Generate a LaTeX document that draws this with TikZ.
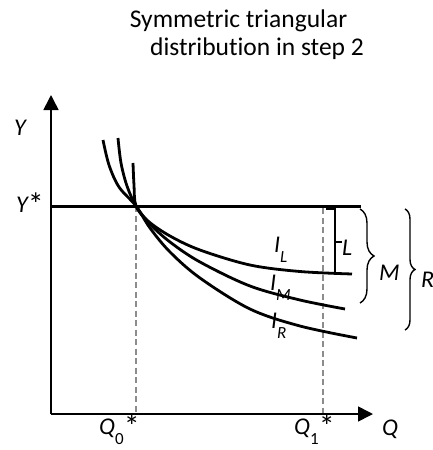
\documentclass[tikz,border=0pt]{standalone}
\usepackage{fontspec}
\setmainfont{Carlito}[Ligatures={NoCommon}]
\usetikzlibrary{arrows.meta,decorations.pathreplacing}
\newcommand{\mysub}[1]{\raisebox{-10pt}{\fontsize{17}{17}\selectfont #1}}
\newcommand{\myast}{\raisebox{-3pt}{\fontsize{32}{32}\selectfont\upshape *}}
\tikzset{
  axis/.style={line width=1.6pt,-{Triangle[length=15pt,width=15pt]}},
  curve/.style={line width=2.8pt},
  guide/.style={line width=1.3pt,draw=black!45,dash pattern=on 6pt off 3.5pt},
  lbl/.style={font=\fontsize{24}{24}\selectfont\itshape,inner sep=0pt,anchor=base west},
  ttl/.style={font=\fontsize{25.5}{25.5}\selectfont,inner sep=0pt,anchor=base},
  brc/.style={line width=1.4pt,decorate},
}
\begin{document}
\begin{tikzpicture}[x=1pt,y=-1pt]
\useasboundingbox (0,0) rectangle (433,450);
% title
\node[ttl] (t1) at (238.5,27) {Symmetric triangular};
\node[ttl] (t2) at (257,55) {distribution in step 2};
% coordinates
\coordinate (O) at (51,414);
\coordinate (ytop) at (51,95);
\coordinate (xend) at (373,414);
\coordinate (ys0) at (51,206);
\coordinate (ys1) at (361,206);
\coordinate (P) at (136,206);
\coordinate (q0) at (136,414);
\coordinate (q1) at (323,208);
\coordinate (q1b) at (323,414);
% dashed guides
\draw[guide] (P) -- (q0);
\draw[guide] (q1) -- (q1b);
% axes
\draw[axis] (O) -- (ytop);
\draw[axis] (O) -- (xend);
% Y* line
\draw[line width=3pt] (ys0) -- (ys1);
% curves
\draw[curve] plot[smooth,tension=0.55] coordinates {(133,163) (134,185) (136,206) (148,221) (170,236) (200,250) (250,265) (300,271.5) (352,274)};
\draw[curve] plot[smooth,tension=0.55] coordinates {(118,138) (121,163) (127,186) (136,206) (150,224) (170,242) (200,262) (250,286) (300,300) (345,309)};
\draw[curve] plot[smooth,tension=0.55] coordinates {(103,140) (109,165) (119,187) (136,206) (150,228) (170,252) (200,278) (250,309) (300,326) (357,338)};
% L bracket
\coordinate (la) at (326,209);
\coordinate (lb) at (335,209);
\coordinate (lc) at (335,275);
\coordinate (lm) at (335,242);
\coordinate (lt) at (342,242);
\draw[line width=1.5pt] (la) -- (lb) -- (lc);
\draw[line width=1.5pt] (lm) -- (lt);
% braces
\coordinate (ma) at (360,209);
\coordinate (mb) at (360,303);
\coordinate (ra) at (405,209);
\coordinate (rb) at (405,330);
\draw[brc,decoration={brace,amplitude=14pt}] (ma) -- (mb);
\draw[brc,decoration={brace,amplitude=10pt}] (ra) -- (rb);
% labels
\node[lbl] (iL) at (274,252) {I\mysub{L}};
\node[lbl] (iM) at (270,290) {I\mysub{M}};
\node[lbl] (iR) at (271,328) {I\mysub{R}};
\node[lbl] (Ll) at (342,255) {L};
\node[lbl] (Ml) at (379,280) {M};
\node[lbl] (Rl) at (421,287) {R};
\node[lbl] (Yl) at (14,135) {Y};
\node[lbl] (Ys) at (16,212) {Y\myast};
\node[lbl] (Q0) at (99,434) {Q\mysub{\upshape 0}\myast};
\node[lbl] (Q1) at (294,434) {Q\mysub{\upshape 1}\myast};
\node[lbl] (Ql) at (382,435) {Q};
\end{tikzpicture}
\end{document}
